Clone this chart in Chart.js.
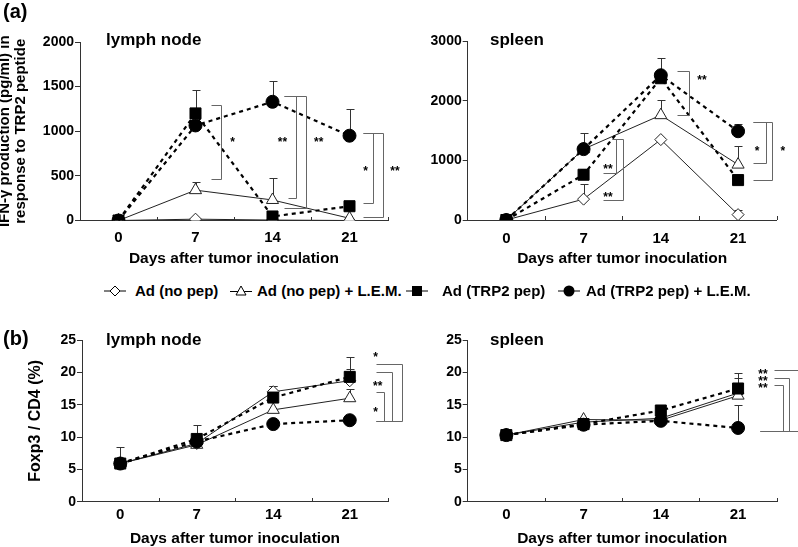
<!DOCTYPE html>
<html>
<head>
<meta charset="utf-8">
<script src="https://cdn.jsdelivr.net/npm/chart.js@4.4.0/dist/chart.umd.min.js"></script>
<style>
body{margin:0;background:#fff;width:798px;height:547px;overflow:hidden;position:relative;font-family:"Liberation Sans",Arial,sans-serif;font-weight:bold;}
canvas{position:absolute;}
.t{position:absolute;white-space:nowrap;color:#000;}
.lg{position:absolute;top:282px;font-size:15px;line-height:18px;white-space:nowrap;}
svg{position:absolute;top:284px;}
</style>
</head>
<body>
<canvas id="lnA" width="410" height="270" style="left:0;top:0"></canvas>
<canvas id="spA" width="398" height="270" style="left:400px;top:0"></canvas>
<canvas id="lnB" width="410" height="250" style="left:0;top:300px"></canvas>
<canvas id="spB" width="398" height="250" style="left:400px;top:300px"></canvas>

<div class="t" style="left:3px;top:0;font-size:20px;line-height:22px">(a)</div>
<div class="t" style="left:3px;top:327px;font-size:20px;line-height:22px">(b)</div>
<div class="t" style="left:106px;top:30px;font-size:17px;line-height:20px">lymph node</div>
<div class="t" style="left:490px;top:30px;font-size:17px;line-height:20px">spleen</div>
<div class="t" style="left:106px;top:330px;font-size:17px;line-height:20px">lymph node</div>
<div class="t" style="left:490px;top:330px;font-size:17px;line-height:20px">spleen</div>

<svg width="22" height="14" style="left:104px"><line x1="0" y1="7" x2="22" y2="7" stroke="#000"/><polygon points="11,2 16,7 11,12 6,7" fill="#fff" stroke="#000"/></svg>
<div class="lg" id="lg0" style="left:135px"></div>
<svg width="22" height="14" style="left:230px"><line x1="0" y1="7.5" x2="22" y2="7.5" stroke="#000"/><polygon points="11,2 16,11 6,11" fill="#fff" stroke="#000"/></svg>
<div class="lg" id="lg1" style="left:257px"></div>
<svg width="22" height="14" style="left:406px"><line x1="0" y1="7" x2="22" y2="7" stroke="#000"/><rect x="6" y="2" width="10" height="10" fill="#000"/></svg>
<div class="lg" id="lg2" style="left:442px"></div>
<svg width="22" height="14" style="left:558px"><line x1="0" y1="7" x2="22" y2="7" stroke="#000"/><circle cx="11" cy="7" r="5.5" fill="#000"/></svg>
<div class="lg" id="lg3" style="left:586px"></div>

<script>
const days = ['0', '7', '14', '21'];
const groups = ['Ad (no pep)', 'Ad (no pep) + L.E.M.', 'Ad (TRP2 pep)', 'Ad (TRP2 pep) + L.E.M.'];

// (a) IFN-gamma, lymph node
const ifnLnNoPep = [0, 15, 5, 0];
const ifnLnNoPepLem = [0, 340, 230, 25];
const ifnLnTrp2 = [0, 1200, 45, 160];
const ifnLnTrp2Lem = [0, 1065, 1330, 950];
const ifnLnNoPepErr = [0, 0, 0, 0];
const ifnLnNoPepLemErr = [0, 95, 250, 0];
const ifnLnTrp2Err = [0, 260, 0, 0];
const ifnLnTrp2LemErr = [0, 0, 235, 300];

// (a) IFN-gamma, spleen
const ifnSpNoPep = [0, 350, 1350, 90];
const ifnSpNoPepLem = [0, 1190, 1760, 930];
const ifnSpTrp2 = [0, 760, 2380, 670];
const ifnSpTrp2Lem = [0, 1190, 2430, 1490];
const ifnSpNoPepErr = [0, 250, 0, 80];
const ifnSpNoPepLemErr = [0, 0, 250, 310];
const ifnSpTrp2Err = [0, 100, 0, 0];
const ifnSpTrp2LemErr = [0, 265, 285, 130];

// (b) Foxp3/CD4, lymph node
const foxLnNoPep = [5.9, 9.0, 17.0, 18.7];
const foxLnNoPepLem = [5.9, 8.8, 14.2, 16.0];
const foxLnTrp2 = [5.9, 9.7, 16.1, 19.3];
const foxLnTrp2Lem = [5.9, 9.3, 12.0, 12.6];
const foxLnNoPepErr = [0, 0, 0.9, 1.8];
const foxLnNoPepLemErr = [0, 0, 0, 1.5];
const foxLnTrp2Err = [2.6, 2.1, 1.8, 3.1];
const foxLnTrp2LemErr = [0, 0, 0, 0];

// (b) Foxp3/CD4, spleen
const foxSpNoPep = [10.3, 12.3, 12.9, 16.8];
const foxSpNoPepLem = [10.3, 12.7, 12.6, 16.4];
const foxSpTrp2 = [10.3, 12.0, 14.1, 17.5];
const foxSpTrp2Lem = [10.3, 11.9, 12.5, 11.4];
const foxSpNoPepErr = [0, 0, 0, 2.3];
const foxSpNoPepLemErr = [0, 0, 0, 0];
const foxSpTrp2Err = [0, 0, 0, 2.4];
const foxSpTrp2LemErr = [0, 0, 0, 3.6];

// significance brackets, in category index / value units
const ifnLnSig = [
  {xt: 1.2, xb: 1.2, x1: 1.33, top: 1290, bottom: 465, label: '*', lx: 1.48, ly: 910},
  {xt: 2.15, xb: 2.2, x1: 2.3, top: 1395, bottom: 256, label: '**', lx: 2.13, ly: 900},
  {xt: 2.15, xb: 2.15, x1: 2.435, top: 1395, bottom: 143, label: '**', lx: 2.6, ly: 900},
  {xt: 3.17, xb: 3.17, x1: 3.31, top: 977, bottom: 200, label: '*', lx: 3.21, ly: 577},
  {xt: 3.17, xb: 3.17, x1: 3.435, top: 977, bottom: 43, label: '**', lx: 3.59, ly: 577}
];
const ifnSpSig = [
  {xt: 2.206, xb: 2.206, x1: 2.365, top: 2507, bottom: 1763, label: '**', lx: 2.533, ly: 2384},
  {xt: 1.37, xb: 1.255, x1: 1.42, top: 1355, bottom: 794, label: '**', lx: 1.316, ly: 890},
  {xt: 1.37, xb: 1.255, x1: 1.507, top: 1355, bottom: 336, label: '**', lx: 1.316, ly: 420},
  {xt: 3.197, xb: 3.197, x1: 3.358, top: 1640, bottom: 951, label: '*', lx: 3.245, ly: 1192},
  {xt: 3.197, xb: 3.197, x1: 3.435, top: 1640, bottom: 671, label: '*', lx: 3.578, ly: 1192}
];
const foxLnSig = [
  {xt: 3.343, xb: 3.343, x1: 3.679, top: 21.3, bottom: 12.4, label: '*', lx: 3.339, ly: 22.8},
  {xt: 3.343, xb: 3.343, x1: 3.556, top: 20.1, bottom: 12.4, label: '**', lx: 3.365, ly: 18.2},
  {xt: 3.343, xb: 3.343, x1: 3.447, top: 16.9, bottom: 12.4, label: '*', lx: 3.339, ly: 14.3}
];
const foxSpSig = [
  {xt: 3.465, xb: 3.286, x1: 3.772, top: 20.3, bottom: 10.9, label: '**', lx: 3.323, ly: 20.05},
  {xt: 3.465, xb: 3.286, x1: 3.663, top: 19.2, bottom: 10.9, label: '**', lx: 3.323, ly: 19.0},
  {xt: 3.465, xb: 3.286, x1: 3.578, top: 18.1, bottom: 10.9, label: '**', lx: 3.323, ly: 17.9}
];

const axisColor = '#333';
Chart.defaults.font.family = '"Liberation Sans", Arial, sans-serif';

groups.forEach((g, i) => { document.getElementById('lg' + i).textContent = g; });

const errBars = {
  id: 'errBars',
  beforeDatasetsDraw(chart) {
    const ctx = chart.ctx, xs = chart.scales.x, ys = chart.scales.y;
    ctx.save();
    ctx.strokeStyle = '#333';
    ctx.lineWidth = 1;
    chart.data.datasets.forEach(ds => {
      (ds.err || []).forEach((e, i) => {
        if (!e) return;
        const x = Math.round(xs.getPixelForValue(i)) + 0.5;
        const y0 = ys.getPixelForValue(ds.data[i]);
        const y1 = Math.round(ys.getPixelForValue(ds.data[i] + e)) + 0.5;
        ctx.beginPath();
        ctx.moveTo(x, y0); ctx.lineTo(x, y1);
        ctx.moveTo(x - 4, y1); ctx.lineTo(x + 4, y1);
        ctx.stroke();
      });
    });
    ctx.restore();
  }
};

const sigMarks = {
  id: 'sigMarks',
  afterDraw(chart, args, opts) {
    const ctx = chart.ctx, xs = chart.scales.x, ys = chart.scales.y;
    const px = v => Math.round(xs.getPixelForValue(v)) + 0.5;
    const py = v => Math.round(ys.getPixelForValue(v)) + 0.5;
    ctx.save();
    ctx.strokeStyle = '#666';
    ctx.lineWidth = 1;
    ctx.fillStyle = '#000';
    ctx.font = 'bold 12px "Liberation Sans", Arial, sans-serif';
    ctx.textAlign = 'center';
    ctx.textBaseline = 'middle';
    (opts.items || []).forEach(b => {
      const x1 = px(b.x1);
      ctx.beginPath();
      ctx.moveTo(px(b.xt), py(b.top));
      ctx.lineTo(x1, py(b.top));
      ctx.lineTo(x1, py(b.bottom));
      ctx.lineTo(px(b.xb), py(b.bottom));
      ctx.stroke();
      ctx.fillText(b.label, xs.getPixelForValue(b.lx), ys.getPixelForValue(b.ly) + 3);
    });
    ctx.restore();
  }
};

// small inward ticks between the day categories
const minorTicks = {
  id: 'minorTicks',
  afterDraw(chart) {
    const ctx = chart.ctx, xs = chart.scales.x;
    const y = Math.round(chart.chartArea.bottom);
    ctx.save();
    ctx.strokeStyle = axisColor;
    ctx.lineWidth = 1;
    ctx.beginPath();
    for (let i = 0; i < days.length; i++) {
      const x = Math.round(xs.getPixelForValue(i + 0.5)) + 0.5;
      ctx.moveTo(x, y); ctx.lineTo(x, y - 4);
    }
    ctx.stroke();
    ctx.restore();
  }
};

function buildSets(vals, errs) {
  return [
    {label: groups[3], data: vals[3], err: errs[3], pointStyle: 'circle', pointRadius: 6.5,
     backgroundColor: '#000', borderColor: '#000', borderWidth: 2.2, borderDash: [4, 4], pointBorderWidth: 1},
    {label: groups[2], data: vals[2], err: errs[2], pointStyle: 'rect', pointRadius: 7.8,
     backgroundColor: '#000', borderColor: '#000', borderWidth: 2.2, borderDash: [4, 4], pointBorderWidth: 1},
    {label: groups[1], data: vals[1], err: errs[1], pointStyle: 'triangle', pointRadius: 7,
     backgroundColor: '#fff', borderColor: '#222', borderWidth: 1, pointBorderWidth: 1},
    {label: groups[0], data: vals[0], err: errs[0], pointStyle: 'rectRot', pointRadius: 6,
     backgroundColor: '#fff', borderColor: '#222', borderWidth: 1, pointBorderWidth: 1}
  ];
}

function drawPanel(id, p) {
  return new Chart(id, {
    type: 'line',
    data: {labels: days, datasets: buildSets(p.vals, p.errs)},
    options: {
      responsive: false,
      animation: false,
      devicePixelRatio: 1,
      layout: {padding: {left: 0, top: p.top, right: p.right, bottom: 0}},
      scales: {
        x: {
          offset: true,
          grid: {offset: true, drawOnChartArea: false, drawTicks: false},
          border: {color: axisColor, width: 1},
          ticks: {color: '#000', font: {size: 15, weight: 'bold'}, padding: p.xTickPad, maxRotation: 0, autoSkip: false},
          title: {display: true, text: 'Days after tumor inoculation', color: '#000',
                  font: {size: 15.5, weight: 'bold'}, padding: {top: 0, bottom: p.xTitlePad}},
          afterFit: s => { s.height = p.xHeight; }
        },
        y: {
          min: 0,
          max: p.yMax,
          grid: {drawOnChartArea: false, tickLength: 5, color: axisColor},
          border: {color: axisColor},
          ticks: {stepSize: p.yStep, color: '#000', font: {size: 14, weight: 'bold'}, padding: 1,
                  callback: v => String(v)},
          title: p.yTitle ? {display: true, text: p.yTitle, color: '#000',
                  font: {size: p.yTitleSize, weight: 'bold', lineHeight: p.yTitleLh},
                  padding: {top: p.yTitlePad, bottom: 0}} : {display: false},
          afterFit: s => { s.width = p.yWidth; }
        }
      },
      plugins: {
        legend: {display: false},
        tooltip: {enabled: false},
        sigMarks: {items: p.sig}
      }
    },
    plugins: [errBars, sigMarks, minorTicks]
  });
}

drawPanel('lnA', {
  vals: [ifnLnNoPep, ifnLnNoPepLem, ifnLnTrp2, ifnLnTrp2Lem],
  errs: [ifnLnNoPepErr, ifnLnNoPepLemErr, ifnLnTrp2Err, ifnLnTrp2LemErr],
  sig: ifnLnSig, yMax: 2000, yStep: 500,
  yTitle: ['IFN-\u03b3 production (pg/ml) in', 'response to TRP2 peptide'],
  yTitleSize: 15, yTitleLh: 1.1, yTitlePad: -3.75,
  top: 42, right: 22, yWidth: 80, xHeight: 49.5, xTickPad: 8.5, xTitlePad: 2.4
});
drawPanel('spA', {
  vals: [ifnSpNoPep, ifnSpNoPepLem, ifnSpTrp2, ifnSpTrp2Lem],
  errs: [ifnSpNoPepErr, ifnSpNoPepLemErr, ifnSpTrp2Err, ifnSpTrp2LemErr],
  sig: ifnSpSig, yMax: 3000, yStep: 1000, yTitle: null,
  top: 41.3, right: 21.3, yWidth: 67.7, xHeight: 50, xTickPad: 9.5, xTitlePad: 2.4
});
drawPanel('lnB', {
  vals: [foxLnNoPep, foxLnNoPepLem, foxLnTrp2, foxLnTrp2Lem],
  errs: [foxLnNoPepErr, foxLnNoPepLemErr, foxLnTrp2Err, foxLnTrp2LemErr],
  sig: foxLnSig, yMax: 25, yStep: 5,
  yTitle: 'Foxp3 / CD4 (%)', yTitleSize: 16, yTitleLh: 1.2, yTitlePad: 25.9,
  top: 40, right: 22, yWidth: 82, xHeight: 48.3, xTickPad: 4, xTitlePad: 1.5
});
drawPanel('spB', {
  vals: [foxSpNoPep, foxSpNoPepLem, foxSpTrp2, foxSpTrp2Lem],
  errs: [foxSpNoPepErr, foxSpNoPepLemErr, foxSpTrp2Err, foxSpTrp2LemErr],
  sig: foxSpSig, yMax: 25, yStep: 5, yTitle: null,
  top: 40, right: 21.3, yWidth: 67.7, xHeight: 48.3, xTickPad: 4, xTitlePad: 1.5
});
</script>
</body>
</html>
